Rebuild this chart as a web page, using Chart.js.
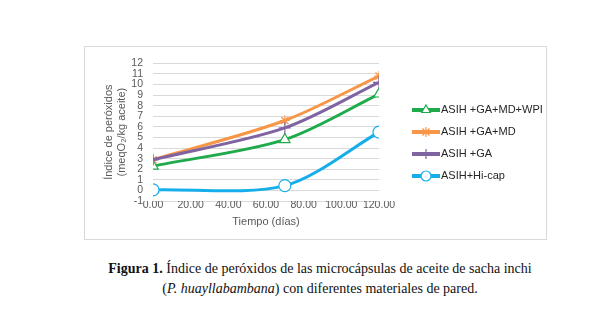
<!DOCTYPE html>
<html>
<head>
<meta charset="utf-8">
<script src="https://cdn.jsdelivr.net/npm/chart.js@4.4.0/dist/chart.umd.min.js"></script>
<style>
  body { margin: 0; background: #fff; width: 606px; height: 317px; position: relative; overflow: hidden; }
  #box { position: absolute; left: 84px; top: 46px; width: 461px; height: 192px; border: 1px solid #d9d9d9; }
  #caption { position: absolute; left: 30px; width: 580px; top: 259px; text-align: center;
    font-family: "Liberation Serif", "Times New Roman", serif; font-size: 14px; line-height: 20px; color: #111; }
</style>
</head>
<body>
<div id="box"><canvas id="chart" width="461" height="192"></canvas></div>
<div id="caption"><b>Figura 1.</b> Índice de peróxidos de las microcápsulas de aceite de sacha inchi<br>(<i>P. huayllabambana</i>) con diferentes materiales de pared.</div>
<script>
// days of storage
const days = [0, 70, 120];
const seriesNames = ['ASIH +GA+MD+WPI', 'ASIH +GA+MD', 'ASIH +GA', 'ASIH+Hi-cap'];
const gaMdWpi = [2.3, 4.8, 9.1];
const gaMd = [2.9, 6.6, 10.8];
const ga = [2.9, 5.9, 10.2];
const hiCap = [0.05, 0.45, 5.5];
const yTicks = [-1, 0, 1, 2, 3, 4, 5, 6, 7, 8, 9, 10, 11, 12];
const xTicks = [0, 20, 40, 60, 80, 100, 120];

const colors = ['#1fab4b', '#f79646', '#8064a2', '#15aeea'];
const markers = ['triangle', 'star', 'cross', 'circle'];
const allValues = [gaMdWpi, gaMd, ga, hiCap];

const txt = '#595959';
const font = "'Liberation Sans', Arial, sans-serif";

var datasets = allValues.map(function(vals, i) {
    return {
        label: seriesNames[i],
        data: days.map(function(d, j) { return { x: d, y: vals[j] }; }),
        borderColor: colors[i],
        backgroundColor: '#ffffff',
        borderWidth: 3,
        pointStyle: markers[i],
        pointRadius: markers[i] == 'star' ? 5 : 6,
        pointBorderWidth: 1.2,
        pointBorderColor: colors[i],
        pointBackgroundColor: '#ffffff',
        tension: 0.3,
        order: 4 - i
    };
});

// legend drawn like the excel one: line with marker in the middle
const legendPlugin = {
    id: 'sideLegend',
    afterDraw: function(chart) {
        const ctx = chart.ctx;
        const x0 = 327, x1 = 355;
        chart.data.datasets.forEach(function(ds, i) {
            const y = 63 + i * 22;
            ctx.save();
            ctx.strokeStyle = ds.borderColor;
            ctx.lineWidth = 4;
            ctx.beginPath();
            ctx.moveTo(x0, y);
            ctx.lineTo(x1, y);
            ctx.stroke();
            ctx.fillStyle = '#ffffff';
            ctx.lineWidth = 1.2;
            Chart.helpers.drawPoint(ctx, { pointStyle: ds.pointStyle, radius: 5, rotation: 0, borderWidth: 1.2 }, (x0 + x1) / 2, y);
            ctx.fillStyle = '#262626';
            ctx.font = '11px ' + font;
            ctx.textBaseline = 'middle';
            ctx.fillText(ds.label, x1 + 1, y);
            ctx.restore();
        });
    }
};

new Chart(document.getElementById('chart'), {
    type: 'line',
    data: { datasets: datasets },
    options: {
        responsive: false,
        animation: false,
        layout: { padding: { left: 18, right: 167, top: 12, bottom: 0 } },
        plugins: { legend: { display: false }, tooltip: { enabled: false } },
        scales: {
            x: {
                type: 'linear',
                min: 0,
                max: 120,
                afterBuildTicks: function(axis) { axis.ticks = xTicks.map(function(v) { return { value: v }; }); },
                afterFit: function(axis) { axis.height = 38; },
                grid: { display: false },
                border: { display: false },
                ticks: {
                    padding: -10,
                    autoSkip: false,
                    maxRotation: 0,
                    minRotation: 0,
                    color: txt,
                    font: { family: font, size: 10.5 },
                    callback: function(v) { return v.toFixed(2); }
                },
                title: { display: true, text: 'Tiempo (días)', color: txt, font: { family: font, size: 11 }, padding: { top: 0, bottom: 10 } }
            },
            y: {
                min: -1,
                max: 12,
                afterBuildTicks: function(axis) { axis.ticks = yTicks.map(function(v) { return { value: v }; }); },
                afterFit: function(axis) { axis.width = 50; },
                grid: { color: '#d9d9d9', drawTicks: false },
                border: { display: false },
                ticks: { padding: 10, autoSkip: false, color: txt, font: { family: font, size: 10.5 } },
                title: {
                    display: true,
                    text: ['Índice de peróxidos', '(meqO₂/kg aceite)'],
                    color: txt,
                    font: { family: font, size: 11, lineHeight: 1.15 },
                    padding: 0
                }
            }
        }
    },
    plugins: [legendPlugin]
});
</script>
</body>
</html>
